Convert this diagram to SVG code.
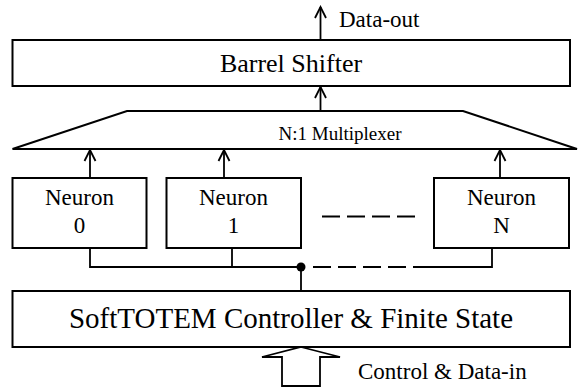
<svg xmlns="http://www.w3.org/2000/svg" width="579" height="390" viewBox="0 0 579 390">
<style>
.box{fill:#fff;stroke:#000;stroke-width:2}
.ln{fill:none;stroke:#000;stroke-width:1.8}
.dash{fill:none;stroke:#000;stroke-width:1.8;stroke-dasharray:18 7}
text{font-family:'Liberation Serif','Times New Roman',serif;fill:#000}
.c{text-anchor:middle}
</style>
<defs>
<marker id="ah" viewBox="-12 -7 14 14" markerWidth="14" markerHeight="14" refX="0" refY="0" orient="auto" markerUnits="userSpaceOnUse">
<path d="M-11,-5.5 L0,0 L-11,5.5" fill="none" stroke="#000" stroke-width="1.8"/>
</marker>
</defs>
<g id="connectors">
<line class="ln" x1="320.5" y1="40" x2="320.5" y2="7" marker-end="url(#ah)"/>
<line class="ln" x1="320.5" y1="111" x2="320.5" y2="87" marker-end="url(#ah)"/>
<line class="ln" x1="90" y1="178" x2="90" y2="150" marker-end="url(#ah)"/>
<line class="ln" x1="224" y1="178" x2="224" y2="150" marker-end="url(#ah)"/>
<line class="ln" x1="500" y1="178" x2="500" y2="150" marker-end="url(#ah)"/>
<polyline class="ln" points="90,248 90,267 301,267"/>
<line class="ln" x1="232" y1="248" x2="232" y2="267"/>
<line class="ln" x1="301" y1="267" x2="301" y2="291"/>
<line class="dash" x1="313" y1="267" x2="430" y2="267"/>
<polyline class="ln" points="430,267 492,267 492,248"/>
<circle cx="301" cy="267" r="4.5" fill="#000"/>
<line class="dash" x1="322" y1="216.5" x2="415" y2="216.5"/>
<polygon points="301,347 340,357 320,357 320,386 282,386 282,357 262,357" fill="#fff" stroke="#000" stroke-width="1.8"/>
</g>
<g id="barrel">
<rect class="box" x="12.5" y="40" width="557.5" height="46"/>
<text class="c" x="291" y="72" font-size="26">Barrel Shifter</text>
</g>
<g id="dataout">
<text x="339" y="27" font-size="23">Data-out</text>
</g>
<g id="mux">
<polygon points="127,111 463,111 577,149 12.5,149" fill="#fff" stroke="#000" stroke-width="2"/>
<text class="c" x="340" y="140" font-size="19">N:1 Multiplexer</text>
</g>
<g id="neuron0">
<rect class="box" x="12.5" y="178" width="134" height="70"/>
<text class="c" x="79.5" y="205" font-size="23">Neuron</text>
<text class="c" x="79.5" y="233" font-size="23">0</text>
</g>
<g id="neuron1">
<rect class="box" x="166.5" y="178" width="134.5" height="70"/>
<text class="c" x="233.5" y="205" font-size="23">Neuron</text>
<text class="c" x="233.5" y="233" font-size="23">1</text>
</g>
<g id="neuronN">
<rect class="box" x="434" y="178" width="135" height="70"/>
<text class="c" x="501.5" y="205" font-size="23">Neuron</text>
<text class="c" x="501.5" y="233" font-size="23">N</text>
</g>
<g id="controller">
<rect class="box" x="12.5" y="291" width="557.5" height="56"/>
<text class="c" x="291" y="328" font-size="29">SoftTOTEM Controller &amp; Finite State</text>
</g>
<g id="input">
<text x="358" y="379" font-size="23">Control &amp; Data-in</text>
</g>
</svg>
